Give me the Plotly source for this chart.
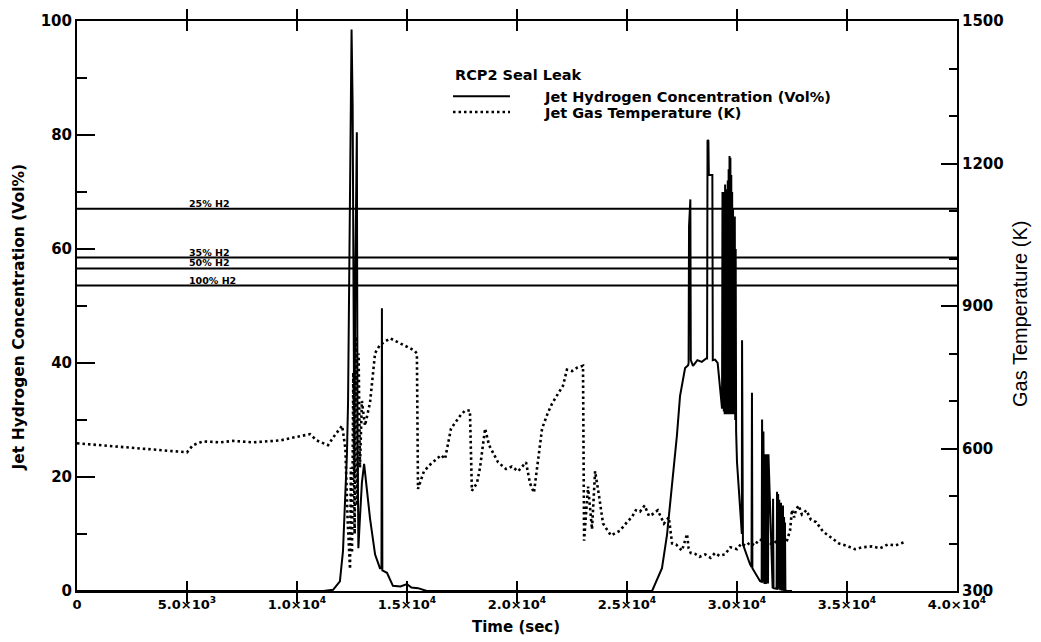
import plotly.graph_objects as go

# Jet hydrogen concentration (Vol%) versus time (s)
h2_time = [
    0, 11200, 11640, 11950, 12090, 12180, 12270, 12320, 12360, 12420, 12480, 12530,
    12570, 12610, 12650, 12690, 12720, 12750, 12790, 12850, 12950, 13050, 13150,
    13320, 13550, 13770, 13840, 13860, 13880, 14090, 14360, 14700, 15000, 15200,
    15500, 15900,
    26140, 26590, 26820, 27050, 27270, 27410, 27640, 27780, 27800, 27820, 27850,
    27880, 27900, 28000, 28200, 28400, 28600, 28640, 28660, 28700, 28720, 28880,
    28900, 29000, 29120, 29320,
    29340, 29360, 29380, 29400, 29420, 29440, 29460, 29480, 29500, 29520, 29540,
    29560, 29580, 29600, 29620, 29640, 29660, 29680, 29700, 29720, 29740, 29760,
    29780, 29800, 29820, 29840, 29860, 29880, 29900, 29920, 29940, 29960,
    30000, 30140, 30200, 30220, 30230, 30250, 30270, 30590, 30660, 30680, 30700,
    31050, 31120, 31140, 31160, 31180, 31200, 31220, 31250, 31270, 31290, 31320,
    31340, 31360, 31390, 31410, 31430, 31620, 31640, 31660, 31800, 31820, 31840,
    31850, 31870, 31890, 31900, 31920, 31935, 31950, 31965, 31985, 32000, 32015,
    32035, 32050, 32065, 32075, 32090, 32105, 32125, 32140, 32155, 32165, 32180,
    32200, 32270, 32500,
]
h2_conc = [
    0, 0, 0.2, 1.7, 7, 15.6, 24, 33, 50, 80, 98.5, 85,
    45, 20, 55, 80.5, 80.5, 30, 7.5, 12, 19, 22.3, 19,
    12.7, 6.4, 4, 4, 49.6, 3.6, 3.2, 0.9, 0.8, 1.2, 0.6,
    0.5, 0,
    0, 4, 9.9, 18.6, 27.3, 34.2, 39.1, 39.6, 40, 64, 68.7,
    68.7, 40.5, 39.5, 40.5, 40.2, 40.8, 40.8, 79.1, 79, 73, 73,
    40.5, 40.6, 40, 32,
    70, 32, 69, 31.5, 70, 31, 71.3, 31, 70.5, 31.5, 68,
    31, 72, 31, 74, 31.5, 76.3, 31, 76, 31, 73, 31.5,
    70, 31, 67, 31, 65.7, 31, 65.7, 30, 60, 28,
    22.6, 14.4, 11, 10, 44, 9.5, 8.2, 4.7, 4.2, 34.8, 4,
    1.7, 1.6, 30.1, 1.5, 1.5, 28, 1.5, 1.4, 1.4, 24, 1.4,
    1.3, 24, 1.3, 1.3, 24, 0.5, 16.2, 0.5, 0.4, 17.4, 0.4,
    0.4, 17, 0.4, 0.4, 16, 0.3, 15.7, 0.3, 0.3, 15.5, 0.3,
    0.2, 15, 0.2, 0.2, 15, 0.2, 0.2, 13, 0.1, 0.1, 12,
    0.1, 0, 0,
]

# Jet gas temperature (K) versus time (s)
temp_time = [
    0, 2000, 4000, 5000, 5270, 5730, 6500, 7090, 8000, 9230, 10140, 10590, 10900,
    11410, 11640, 12050,
    12200, 12300, 12410, 12450, 12500, 12560, 12620, 12680, 12740, 12800, 12860,
    12950, 13090, 13320, 13550, 13770, 14230, 14680, 15140, 15360, 15450, 15500,
    15770, 16050, 16550, 16730, 17000, 17450, 17640, 17860, 17950, 18180, 18320,
    18550, 18730, 19140, 19500, 19770, 20050, 20410, 20590, 20770, 20950, 21140,
    21410, 21590, 21860, 22090, 22270, 22500, 22730, 23000, 23050, 23230, 23410,
    23550, 23730, 23910, 24270, 24680, 25000, 25230, 25400, 25590, 25800, 26000,
    26140, 26400, 26680, 26900, 27050, 27230, 27500, 27730, 27800, 27900, 28100,
    28300, 28550, 28800, 29000, 29200, 29450, 29700, 30000, 30200, 30400, 30590,
    30800, 31000, 31320, 31600, 31800, 32000, 32230, 32410, 32500, 32600, 32680,
    32800, 32950, 33150, 33360, 33600, 33910, 34200, 34640, 35000, 35360, 35700,
    36140, 36500, 36860, 37200, 37680,
]
temp_kelvin = [
    611, 603, 596, 592, 607, 615, 613, 616, 613, 617, 626, 630, 617,
    607, 623, 648,
    600, 450, 346, 560, 380, 760, 420, 836, 480, 800, 560,
    700, 648, 697, 801, 818, 832, 822, 811, 805, 800, 515,
    552, 566, 586, 578, 642, 671, 680, 680, 511, 527, 560,
    642, 607, 571, 557, 562, 552, 571, 527, 507, 571, 642,
    676, 694, 715, 732, 766, 763, 770, 774, 406, 520, 430,
    552, 500, 442, 417, 427, 445, 456, 470, 467, 480, 458,
    461, 470, 442, 455, 400, 398, 385, 420, 390, 380, 378,
    372, 377, 370, 380, 374, 377, 392, 388, 400, 395, 402,
    396, 408, 406, 398, 405, 396, 400, 427, 471, 455, 471,
    480, 461, 470, 450, 445, 425, 415, 400, 395, 388, 392,
    394, 390, 398, 396, 404,
]

# Reference temperature levels for jet hydrogen fractions
ref_labels = ["25% H2", "35% H2", "50% H2", "100% H2"]
ref_kelvin = [1105, 1002, 979, 943]

x_ticks = [0, 5000, 10000, 15000, 20000, 25000, 30000, 35000, 40000]
x_tick_text = ["0", "5.0×10<sup>3</sup>", "1.0×10<sup>4</sup>", "1.5×10<sup>4</sup>",
               "2.0×10<sup>4</sup>", "2.5×10<sup>4</sup>", "3.0×10<sup>4</sup>",
               "3.5×10<sup>4</sup>", "4.0×10<sup>4</sup>"]

BOLD = "DejaVu Sans"
INK = "black"

fig = go.Figure()

for lvl in ref_kelvin:
    fig.add_trace(go.Scatter(
        x=[x_ticks[0], x_ticks[-1]], y=[lvl, lvl], yaxis="y2", mode="lines",
        line=dict(color=INK, width=2), showlegend=False, hoverinfo="skip"))

fig.add_trace(go.Scatter(
    x=temp_time, y=temp_kelvin, yaxis="y2", mode="lines",
    line=dict(color=INK, width=2.6, dash="2.5px,3px"),
    name="Jet Gas Temperature (K)", showlegend=False))

fig.add_trace(go.Scatter(
    x=h2_time, y=h2_conc, mode="lines",
    line=dict(color=INK, width=2),
    name="Jet Hydrogen Concentration (Vol%)", showlegend=False))

annotations = []
for lab, lvl in zip(ref_labels, ref_kelvin):
    annotations.append(dict(
        x=5000, y=lvl, xref="x", yref="y2", text=lab, showarrow=False,
        xanchor="left", yanchor="bottom", yshift=-2,
        font=dict(family=BOLD, size=9.5, color=INK, weight="bold")))

# legend block
lx0, lx1, ltext = 0.4273, 0.4920, 0.5284
annotations += [
    dict(x=lx0, y=0.9045, xref="paper", yref="paper", text="RCP2 Seal Leak",
         showarrow=False, xanchor="left", yanchor="middle",
         font=dict(family=BOLD, size=14.5, color=INK, weight="bold")),
    dict(x=ltext, y=0.8663, xref="paper", yref="paper",
         text="Jet Hydrogen Concentration (Vol%)", showarrow=False,
         xanchor="left", yanchor="middle",
         font=dict(family=BOLD, size=14.5, color=INK, weight="bold")),
    dict(x=ltext, y=0.8385, xref="paper", yref="paper",
         text="Jet Gas Temperature (K)", showarrow=False,
         xanchor="left", yanchor="middle",
         font=dict(family=BOLD, size=14.5, color=INK, weight="bold")),
    # axis titles
    dict(x=-0.0659, y=0.48, xref="paper", yref="paper",
         text="Jet Hydrogen Concentration (Vol%)", showarrow=False,
         textangle=-90, xanchor="center", yanchor="middle",
         font=dict(family=BOLD, size=15.5, color=INK, weight="bold")),
    dict(x=0.4989, y=-0.0625, xref="paper", yref="paper", text="Time (sec)",
         showarrow=False, xanchor="center", yanchor="middle",
         font=dict(family=BOLD, size=15, color=INK, weight="bold")),
    dict(x=1.0716, y=0.486, xref="paper", yref="paper", text="Gas Temperature (K)",
         showarrow=False, textangle=-90, xanchor="center", yanchor="middle",
         font=dict(family="Liberation Sans", size=20, color=INK)),
]

shapes = [
    dict(type="line", xref="paper", yref="paper", x0=lx0, x1=lx1, y0=0.868, y1=0.868,
         line=dict(color=INK, width=2)),
    dict(type="line", xref="paper", yref="paper", x0=lx0, x1=lx1, y0=0.8403, y1=0.8403,
         line=dict(color=INK, width=2.6, dash="2.5px,3px")),
]

tickfont = dict(family=BOLD, size=15, color=INK, weight="bold")

fig.update_layout(
    width=1041, height=642,
    margin=dict(l=77, r=84, t=15, b=51),
    paper_bgcolor="white", plot_bgcolor="white",
    showlegend=False,
    annotations=annotations, shapes=shapes,
    xaxis=dict(
        range=[0, 40000], tickvals=x_ticks, ticktext=x_tick_text,
        showline=True, linecolor=INK, linewidth=2, mirror="allticks",
        ticks="inside", ticklen=10, tickwidth=2, tickcolor=INK,
        showgrid=False, zeroline=False,
        tickfont=dict(family=BOLD, size=13, color=INK, weight="bold")),
    yaxis=dict(
        range=[0, 100], tick0=0, dtick=20,
        showline=True, linecolor=INK, linewidth=2,
        ticks="inside", ticklen=18, tickwidth=2, tickcolor=INK,
        minor=dict(ticks="inside", dtick=10, ticklen=10, tickwidth=2, tickcolor=INK),
        showgrid=False, zeroline=False, tickfont=tickfont),
    yaxis2=dict(
        range=[300, 1500], tick0=300, dtick=300, overlaying="y", side="right",
        showline=True, linecolor=INK, linewidth=2,
        ticks="inside", ticklen=16, tickwidth=2, tickcolor=INK,
        minor=dict(ticks="inside", dtick=100, ticklen=8, tickwidth=2, tickcolor=INK),
        showgrid=False, zeroline=False, tickfont=tickfont),
)

fig.write_html("out.html")
